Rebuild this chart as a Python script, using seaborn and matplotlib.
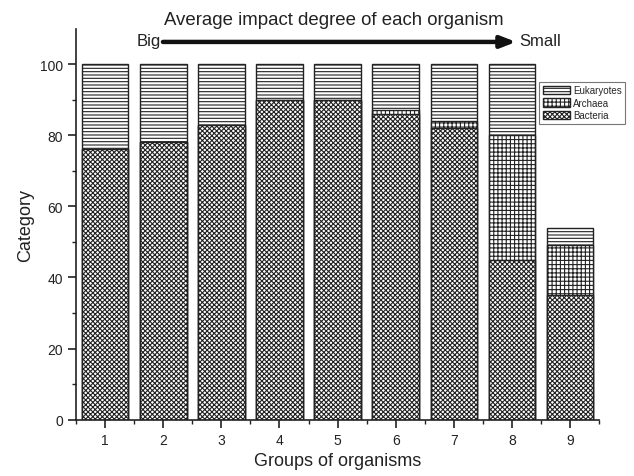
import numpy as np
import pandas as pd
import seaborn as sns
import matplotlib
matplotlib.use("Agg")
import matplotlib.pyplot as plt
from matplotlib.patches import Patch
from matplotlib.ticker import FixedLocator

groups = ["1", "2", "3", "4", "5", "6", "7", "8", "9"]
bacteria = [76, 78, 83, 90, 90, 86, 82, 45, 35]
archaea = [0, 0, 0, 0, 0, 1, 2, 35, 14]
eukaryotes = [24, 22, 17, 10, 10, 13, 16, 20, 5]

sns.set_style("ticks")
plt.rcParams["font.family"] = ["Liberation Sans", "DejaVu Sans"]
plt.rcParams["hatch.linewidth"] = 0.8
plt.rcParams["hatch.color"] = "#222222"

cum_b = np.array(bacteria)
cum_a = cum_b + np.array(archaea)
cum_e = cum_a + np.array(eukaryotes)

df = pd.DataFrame({"group": groups, "bac": cum_b, "arc": cum_a, "euk": cum_e})

fig = plt.figure(figsize=(6.34, 4.77), dpi=100)
ax = fig.add_axes([0.12, 0.118, 0.825, 0.82])

layers = [("euk", "-----", "Eukaryotes"), ("arc", "++++", "Archaea"), ("bac", "xxxxxxx", "Bacteria")]
for col, hatch, label in layers:
    n0 = len(ax.patches)
    sns.barplot(data=df, x="group", y=col, ax=ax, color="white", width=0.8,
                edgecolor="#222222", linewidth=1.0)
    for p in ax.patches[n0:]:
        p.set_hatch(hatch)
        p.set_facecolor("white")
        p.set_edgecolor("#222222")

ax.set_xlim(-0.5, 8.5)
ax.set_ylim(0, 110)
ax.yaxis.set_major_locator(FixedLocator([0, 20, 40, 60, 80, 100]))
ax.yaxis.set_minor_locator(FixedLocator([10, 30, 50, 70, 90]))
ax.xaxis.set_minor_locator(FixedLocator(np.arange(-0.5, 9, 1.0)))
ax.tick_params(axis="both", which="major", direction="out", length=6, width=1.2, labelsize=10, colors="#222222")
ax.tick_params(axis="both", which="minor", direction="out", length=3, width=1.0, colors="#222222")
for s in ["left", "bottom"]:
    ax.spines[s].set_linewidth(1.2)
    ax.spines[s].set_color("#222222")
sns.despine(ax=ax)

ax.set_xlabel("Groups of organisms", fontsize=13, color="#222222")
ax.set_ylabel("Category", fontsize=13, color="#222222")

handles = [Patch(facecolor="white", edgecolor="#222222", hatch=h, label=l) for _, h, l in layers]
leg = ax.legend(handles=handles, loc="upper right", bbox_to_anchor=(0.986, 0.826),
                bbox_transform=fig.transFigure,
                fontsize=7, frameon=True, fancybox=False, edgecolor="#555555",
                handlelength=2.8, handleheight=0.9, borderpad=0.35, labelspacing=0.25,
                handletextpad=0.3, borderaxespad=0)
leg.get_frame().set_linewidth(0.8)

fig.text(0.526, 0.956, "Average impact degree of each organism", ha="center", va="center",
         fontsize=13.4, color="#222222")
fig.text(0.234, 0.912, "Big", ha="center", va="center", fontsize=12, color="#222222")
fig.text(0.852, 0.912, "Small", ha="center", va="center", fontsize=12, color="#222222")
ax.annotate("", xy=(0.814, 0.910), xytext=(0.257, 0.910), xycoords="figure fraction",
            textcoords="figure fraction",
            arrowprops=dict(arrowstyle="-|>,head_length=0.9,head_width=0.35", lw=3.2, color="#111111",
                            shrinkA=0, shrinkB=0))

fig.savefig("out.png", dpi=100)
